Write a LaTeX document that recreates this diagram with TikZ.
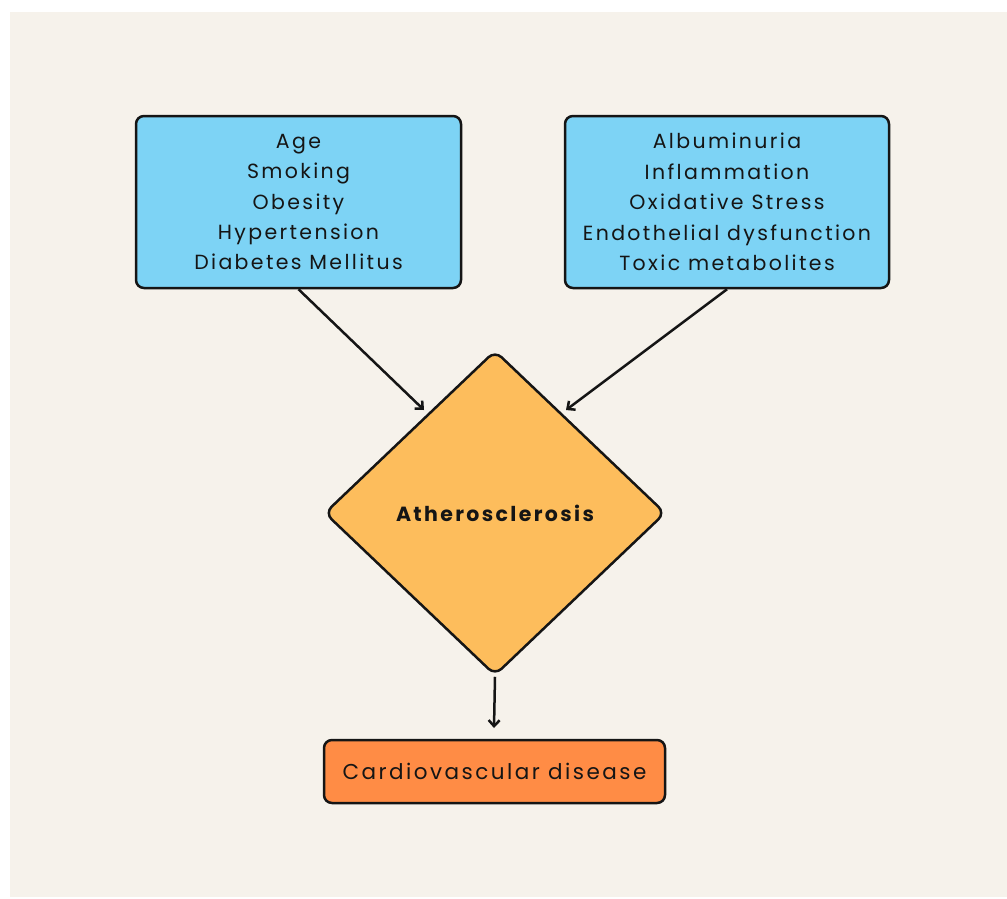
\documentclass[tikz,border=0pt]{standalone}
\usepackage{fontspec}
\setmainfont{Poppins}[LetterSpace=11.5]
\usetikzlibrary{shapes.geometric,arrows.meta}
\definecolor{bgc}{HTML}{F6F2EB}
\definecolor{boxblue}{HTML}{7DD3F5}
\definecolor{diaor}{HTML}{FDBD5C}
\definecolor{cvdor}{HTML}{FF8C45}
\definecolor{txt}{HTML}{151515}
\begin{document}
\begin{tikzpicture}[x=1pt,y=-1pt,
  factorbox/.style={draw=txt, line width=2.5pt, fill=boxblue, rounded corners=8pt,
    minimum width=325pt, minimum height=172pt, inner sep=0pt, align=center,
    text=txt, font=\fontsize{20.5}{30.4}\selectfont},
  decision/.style={diamond, draw=txt, line width=2.5pt, fill=diaor, rounded corners=9pt,
    minimum width=341pt, minimum height=325pt, aspect=1.05, inner sep=0pt,
    text=txt, font=\fontsize{20.5}{24}\selectfont\bfseries},
  outcome/.style={draw=txt, line width=2.5pt, fill=cvdor, rounded corners=8pt,
    minimum width=341pt, minimum height=63pt, inner sep=0pt,
    text=txt, font=\fontsize{21.5}{26}\selectfont},
  flow/.style={draw=txt, line width=2.5pt, -{Straight Barb[length=6pt,width=11pt,line width=2.5pt]}}
]
\useasboundingbox (0,0) rectangle (1007,898);
\fill[white] (0,0) rectangle (1007,898);
\fill[bgc] (10,12) rectangle (1007,897);

\node[factorbox] (risk) at (298.5,202) {\raisebox{2pt}{\parbox{300pt}{\centering Age\\Smoking\\Obesity\\Hypertension\\Diabetes Mellitus}}};
\node[factorbox, minimum width=324pt] (renal) at (727,202) {\raisebox{2pt}{\parbox{310pt}{\centering Albuminuria\\Inflammation\\Oxidative Stress\\Endothelial dysfunction\\Toxic metabolites}}};
\node[decision] (ath) at (495,513) {Atherosclerosis};
\node[outcome] (cvd) at (494.5,771.5) {Cardiovascular disease};

\coordinate (inL) at (424,410);
\coordinate (inR) at (566,410);
\coordinate (inC) at (494,728);

\draw[flow] (risk.south) -- (inL);
\draw[flow] (renal.south) -- (inR);
\draw[flow] (ath.south) -- (inC);
\end{tikzpicture}
\end{document}
